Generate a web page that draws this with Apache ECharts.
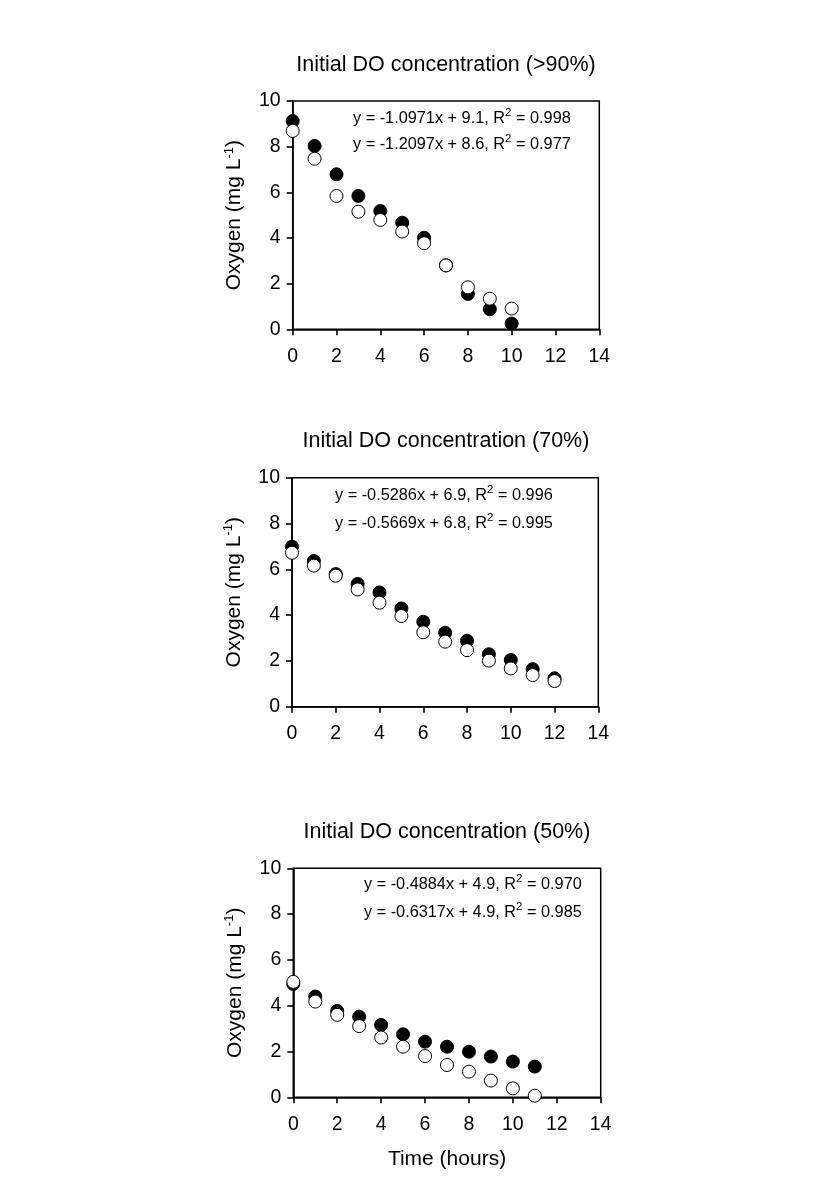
<!DOCTYPE html>
<html><head><meta charset="utf-8">
<script src="https://cdn.jsdelivr.net/npm/echarts@6/dist/echarts.min.js"></script>
<style>html,body{margin:0;padding:0;background:#fff}#c{width:826px;height:1192px}</style>
</head><body><div id="c"></div>
<script>
// ---- data ----
const hours = [0, 1, 2, 3, 4, 5, 6, 7, 8, 9, 10, 11, 12];
const xTicks = [0, 2, 4, 6, 8, 10, 12, 14];
const yTicks = [0, 2, 4, 6, 8, 10];

const titles = ['Initial DO concentration (>90%)', 'Initial DO concentration (70%)', 'Initial DO concentration (50%)'];

const p1Filled = [9.12, 8.03, 6.79, 5.84, 5.18, 4.67, 4.01, 2.80, 1.55, 0.88, 0.25];
const p1Open   = [8.69, 7.47, 5.84, 5.15, 4.79, 4.28, 3.77, 2.80, 1.84, 1.34, 0.91];

const p2Filled = [6.99, 6.36, 5.79, 5.36, 4.99, 4.29, 3.71, 3.23, 2.88, 2.29, 2.04, 1.64, 1.24];
const p2Open   = [6.72, 6.16, 5.72, 5.12, 4.54, 3.96, 3.25, 2.84, 2.47, 2.01, 1.67, 1.38, 1.12];

const p3Filled = [4.95, 4.40, 3.77, 3.52, 3.16, 2.75, 2.43, 2.21, 1.99, 1.78, 1.56, 1.34];
const p3Open   = [5.04, 4.18, 3.60, 3.11, 2.61, 2.21, 1.80, 1.41, 1.12, 0.73, 0.39, 0.07];

const eqFilled = ['y = -1.0971x + 9.1, R{sup|2} = 0.998', 'y = -0.5286x + 6.9, R{sup|2} = 0.996', 'y = -0.4884x + 4.9, R{sup|2} = 0.970'];
const eqOpen   = ['y = -1.2097x + 8.6, R{sup|2} = 0.977', 'y = -0.5669x + 6.8, R{sup|2} = 0.995', 'y = -0.6317x + 4.9, R{sup|2} = 0.985'];

const panels = [
  {filled: p1Filled, open: p1Open},
  {filled: p2Filled, open: p2Open},
  {filled: p3Filled, open: p3Open}
];

// ---- layout ----
const FONT = 'Liberation Sans, Arial, sans-serif';
const grids = [
  {left: 292.7, top: 101,   width: 306.6, height: 228.3},
  {left: 292,   top: 477.7, width: 306.3, height: 229},
  {left: 293.3, top: 868.3, width: 307.4, height: 229}
];
const titleY = [65, 441, 832];
const titleX = [446, 446, 447];
const eqPos = [
  {x: 353, y1: 118.5, y2: 145},
  {x: 335, y1: 496, y2: 523.5},
  {x: 364, y1: 885, y2: 913}
];

const axisLine = {show: true, lineStyle: {color: '#000', width: 1.6}};
const axisTick = {show: true, inside: false, length: 6, lineStyle: {color: '#000', width: 1.6}};

const option = {
  animation: false,
  backgroundColor: '#fff',
  grid: grids.map(g => Object.assign({show: true, borderColor: '#000', borderWidth: 1.5, backgroundColor: 'transparent', containLabel: false, outerBoundsMode: 'none'}, g)),
  xAxis: grids.map((g, i) => ({
    type: 'value', gridIndex: i, min: xTicks[0], max: xTicks[xTicks.length - 1], interval: xTicks[1] - xTicks[0],
    axisLine, axisTick, splitLine: {show: false},
    axisLabel: {color: '#000', fontSize: 19.5, fontFamily: FONT, margin: 17},
    name: i === 2 ? 'Time (hours)' : '', nameLocation: 'middle', nameGap: 51,
    nameTextStyle: {color: '#000', fontSize: 21, fontFamily: FONT}
  })),
  yAxis: grids.map((g, i) => ({
    type: 'value', gridIndex: i, min: yTicks[0], max: yTicks[yTicks.length - 1], interval: yTicks[1] - yTicks[0],
    axisLine, axisTick, splitLine: {show: false},
    axisLabel: {color: '#000', fontSize: 19.5, fontFamily: FONT, margin: 12},
    name: 'Oxygen (mg L{sup|-1})', nameLocation: 'middle', nameGap: 46, nameMoveOverlap: false,
    nameTextStyle: {color: '#000', fontSize: 21, fontFamily: FONT, lineHeight: 24,
      rich: {sup: {fontSize: 13, fontFamily: FONT, color: '#000', verticalAlign: 'top', lineHeight: 13}}}
  })),
  series: [],
  graphic: []
};

panels.forEach((p, i) => {
  option.series.push({
    type: 'scatter', xAxisIndex: i, yAxisIndex: i, symbol: 'circle', symbolSize: 13, z: 3,
    itemStyle: {color: '#000', borderColor: '#000', borderWidth: 1, opacity: 1},
    data: p.filled.map((v, k) => [hours[k], v])
  });
  option.series.push({
    type: 'scatter', xAxisIndex: i, yAxisIndex: i, symbol: 'circle', symbolSize: 13, z: 4,
    itemStyle: {color: '#fff', borderColor: '#000', borderWidth: 1, opacity: 1},
    data: p.open.map((v, k) => [hours[k], v])
  });
  option.graphic.push({
    type: 'text', x: titleX[i], y: titleY[i],
    style: {text: titles[i], fill: '#000', font: '21.5px ' + FONT, align: 'center', verticalAlign: 'middle'}
  });
  [[eqFilled[i], eqPos[i].y1], [eqOpen[i], eqPos[i].y2]].forEach(([t, y]) => {
    option.graphic.push({
      type: 'text', x: eqPos[i].x, y: y,
      style: {text: t, fill: '#000', fontSize: 16.3, fontFamily: FONT, align: 'left', verticalAlign: 'middle', lineHeight: 24,
        rich: {sup: {fontSize: 11.5, fontFamily: FONT, fill: '#000', verticalAlign: 'top', lineHeight: 11.5}}}
    });
  });
});

const chart = echarts.init(document.getElementById('c'), null, {renderer: 'canvas'});
chart.setOption(option);
</script>
</body></html>
